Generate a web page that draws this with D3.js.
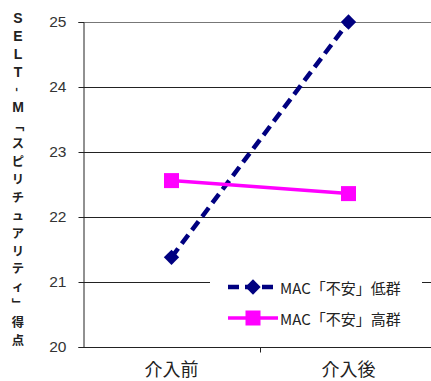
<!DOCTYPE html>
<html>
<head>
<meta charset="utf-8">
<script src="https://cdn.jsdelivr.net/npm/d3@7"></script>
<style>
  html, body { margin: 0; padding: 0; background: #fff; overflow: hidden; }
  svg { display: block; }
</style>
</head>
<body>
<svg id="chart" width="431" height="381"></svg>
<script>
// Phases of the intervention (x categories)
const categories = ["介入前", "介入後"];
// Mean SELT-M spirituality scores per group
const lowAnxiety = [21.38, 25.0];
const highAnxiety = [22.56, 22.36];
const seriesNames = ["MAC「不安」低群", "MAC「不安」高群"];
const yTicks = [20, 21, 22, 23, 24, 25];
const yTitle = "SELT-M「スピリチュアリティ」得点";

const svg = d3.select("#chart");
const plot = { left: 83, right: 437, top: 22, bottom: 347 };

const x = d3.scaleBand().domain(categories).range([plot.left, plot.right]);
const y = d3.scaleLinear().domain([20, 25]).range([plot.bottom, plot.top]);
const cx = c => x(c) + x.bandwidth() / 2;

const latin = "'Liberation Sans', Arial, sans-serif";
const cjk = "'Noto Sans CJK JP', sans-serif";

// Horizontal gridlines
svg.append("g")
  .selectAll("line")
  .data(yTicks.filter(t => t > 20))
  .join("line")
  .attr("x1", plot.left).attr("x2", plot.right)
  .attr("y1", d => Math.round(y(d)) + 0.5).attr("y2", d => Math.round(y(d)) + 0.5)
  .attr("stroke", d => d === 25 ? "#777" : "#222")
  .attr("stroke-width", 1);

// Y axis
const yAxis = svg.append("g")
  .attr("transform", `translate(${plot.left + 0.5},0)`)
  .call(d3.axisLeft(y).tickValues(yTicks).tickFormat(d3.format("d")).tickSize(5).tickPadding(12));
yAxis.select(".domain").attr("stroke", "#222");
yAxis.selectAll(".tick line").attr("stroke", "#222");
yAxis.selectAll(".tick text")
  .attr("font-family", latin).attr("font-size", 15.5).attr("fill", "#333");

// X axis: a single divider tick between the two phases
const xAxis = svg.append("g")
  .attr("transform", `translate(0,${Math.round(y(20)) + 0.5})`);
xAxis.append("line")
  .attr("x1", plot.left).attr("x2", plot.right)
  .attr("stroke", "#222");
xAxis.append("line")
  .attr("x1", Math.round(x(categories[1])) + 0.5).attr("x2", Math.round(x(categories[1])) + 0.5)
  .attr("y1", 0).attr("y2", 5)
  .attr("stroke", "#222");
xAxis.selectAll("text.cat")
  .data(categories)
  .join("text")
  .attr("class", "cat")
  .attr("x", d => cx(d)).attr("y", 28)
  .attr("text-anchor", "middle")
  .attr("font-family", cjk).attr("font-size", 18).attr("fill", "#222")
  .text(d => d);

// Vertical axis title: one glyph per row; brackets and hyphen turned for vertical setting
const titleChars = Array.from(yTitle);
const turned = "-「」";
const isLatin = ch => /[A-Z]/.test(ch);
const step = (340 - 18) / (titleChars.length - 1);
svg.append("g")
  .selectAll("text")
  .data(titleChars)
  .join("text")
  .attr("transform", (d, i) => {
    const ty = 18 + i * step;
    return turned.includes(d) ? `translate(18,${ty}) rotate(90)` : `translate(18,${ty})`;
  })
  .attr("text-anchor", "middle")
  .attr("dominant-baseline", "central")
  .attr("font-family", d => isLatin(d) ? latin : cjk)
  .attr("font-weight", "bold")
  .attr("font-size", d => isLatin(d) ? 14 : 12.3)
  .attr("fill", "#222")
  .text(d => d);

const line = d3.line().x((d, i) => cx(categories[i])).y(d => y(d));

// Low-anxiety group: dashed navy with diamonds
svg.append("path")
  .datum(lowAnxiety)
  .attr("d", line)
  .attr("fill", "none").attr("stroke", "#000080")
  .attr("stroke-width", 4.5).attr("stroke-dasharray", "11,6");
const diamond = d3.symbol().type(d3.symbolDiamond2).size(150);
svg.append("g")
  .selectAll("path")
  .data(lowAnxiety)
  .join("path")
  .attr("transform", (d, i) => `translate(${cx(categories[i])},${y(d)})`)
  .attr("d", diamond)
  .attr("fill", "#000080");

// High-anxiety group: solid magenta with squares
svg.append("path")
  .datum(highAnxiety)
  .attr("d", line)
  .attr("fill", "none").attr("stroke", "#ff00ff")
  .attr("stroke-width", 3.5);
svg.append("g")
  .selectAll("rect")
  .data(highAnxiety)
  .join("rect")
  .attr("x", (d, i) => cx(categories[i]) - 7.5)
  .attr("y", d => y(d) - 7.5)
  .attr("width", 15).attr("height", 15)
  .attr("fill", "#ff00ff");

// Legend
const legend = svg.append("g").attr("transform", "translate(210,270)");
legend.append("rect")
  .attr("width", 212).attr("height", 64)
  .attr("fill", "#fff");
const rows = legend.selectAll("g.row")
  .data(seriesNames)
  .join("g")
  .attr("class", "row")
  .attr("transform", (d, i) => `translate(0,${17 + i * 31})`);
rows.append("line")
  .attr("x1", 18).attr("x2", 68)
  .attr("stroke", (d, i) => i === 0 ? "#000080" : "#ff00ff")
  .attr("stroke-width", (d, i) => i === 0 ? 4.5 : 3.5)
  .attr("stroke-dasharray", (d, i) => i === 0 ? "11,6" : null);
rows.filter((d, i) => i === 0).append("path")
  .attr("transform", "translate(43,0)")
  .attr("d", diamond)
  .attr("fill", "#000080");
rows.filter((d, i) => i === 1).append("rect")
  .attr("x", 35.5).attr("y", -7.5).attr("width", 15).attr("height", 15)
  .attr("fill", "#ff00ff");
rows.append("text")
  .attr("x", 70).attr("y", 0)
  .attr("dominant-baseline", "central")
  .attr("font-family", cjk).attr("font-size", 15).attr("fill", "#222")
  .text(d => d);
</script>
</body>
</html>
